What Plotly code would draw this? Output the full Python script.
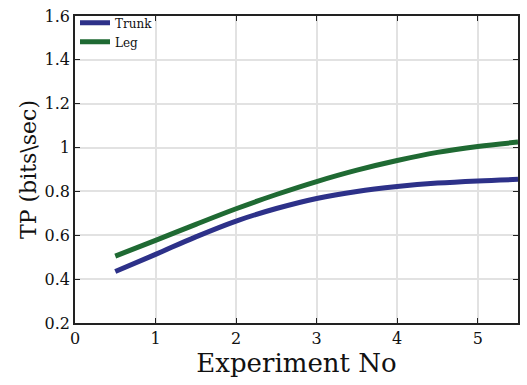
import plotly.graph_objects as go

# Throughput per experiment for each body-part condition
experiment = [0.5, 1.0, 1.5, 2.0, 2.5, 3.0, 3.5, 4.0, 4.5, 5.0, 5.5]
trunk_tp = [0.435, 0.513, 0.593, 0.665, 0.722, 0.768, 0.800, 0.822, 0.838, 0.848, 0.855]
leg_tp = [0.505, 0.577, 0.650, 0.721, 0.786, 0.845, 0.897, 0.941, 0.978, 1.005, 1.025]

x_ticks = [0, 1, 2, 3, 4, 5]
y_ticks = [0.2, 0.4, 0.6, 0.8, 1.0, 1.2, 1.4, 1.6]
y_tick_labels = ["0.2", "0.4", "0.6", "0.8", "1", "1.2", "1.4", "1.6"]

serif = "DejaVu Serif"

fig = go.Figure()
fig.add_trace(go.Scatter(
    x=experiment, y=trunk_tp, mode="lines", name="Trunk",
    line=dict(color="#2d3189", width=5, shape="spline"),
))
fig.add_trace(go.Scatter(
    x=experiment, y=leg_tp, mode="lines", name="Leg",
    line=dict(color="#1f6a33", width=5, shape="spline"),
))

axis_common = dict(
    showline=True, linecolor="#222222", linewidth=1.5, mirror="ticks",
    ticks="inside", ticklen=5, tickcolor="#222222",
    showgrid=True, gridcolor="#e2e2e2", gridwidth=1.5,
    zeroline=False,
    tickfont=dict(family=serif, size=16, color="#111111"),
)

fig.update_layout(
    width=527, height=385,
    margin=dict(l=75, r=7, t=12, b=62),
    paper_bgcolor="white", plot_bgcolor="white",
    showlegend=True,
    font=dict(family=serif, color="#111111"),
    legend=dict(
        x=0.0, y=1.025, xanchor="left", yanchor="top",
        bgcolor="rgba(0,0,0,0)", borderwidth=0,
        font=dict(family=serif, size=12, color="#111111"),
        itemwidth=30, tracegroupgap=0,
    ),
    xaxis=dict(
        range=[0, 5.5], tickvals=x_ticks,
        title=dict(text="Experiment No", font=dict(family=serif, size=26, color="#111111"), standoff=4),
        **axis_common,
    ),
    yaxis=dict(
        range=[0.2, 1.6], tickvals=y_ticks, ticktext=y_tick_labels,
        title=dict(text="TP (bits\\sec)", font=dict(family=serif, size=22, color="#111111"), standoff=2),
        **axis_common,
    ),
)

fig.write_html("out.html")
